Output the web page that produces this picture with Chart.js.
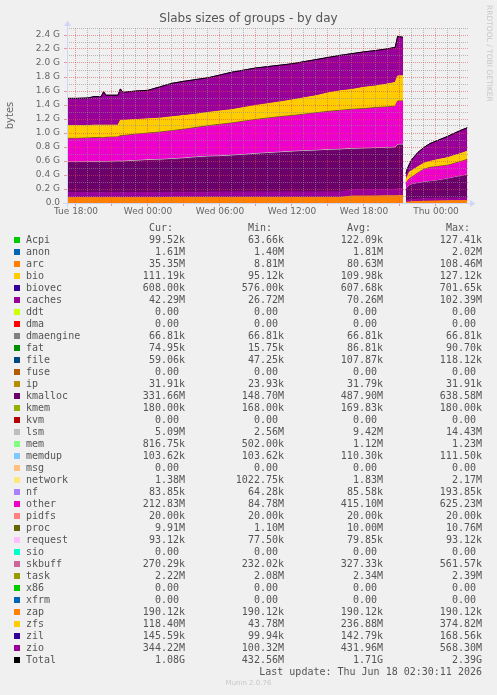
<!DOCTYPE html>
<html>
<head>
<meta charset="utf-8">
<script src="https://cdn.jsdelivr.net/npm/chart.js@4.4.1/dist/chart.umd.min.js"></script>
<style>
  html, body { margin: 0; padding: 0; background: #f0f0f0; }
  #wrap { position: relative; width: 497px; height: 695px; overflow: hidden; font-family: "DejaVu Sans", sans-serif; color: #555; }
  #chart { position: absolute; left: 0; top: 0; }
  .title { position: absolute; left: 0; width: 497px; top: 11px; text-align: center; font-size: 12px; line-height: 14px; color: #555; }
  .rrd { position: absolute; left: 494px; top: 5px; transform-origin: 0 0; transform: rotate(90deg); font-size: 7.5px; line-height: 9px; color: #c8c8c8; white-space: nowrap; }
  #legend { position: absolute; left: 0; top: 0; width: 497px; height: 695px; font-family: "DejaVu Sans Mono", monospace; font-size: 10px; line-height: 12px; color: #555; }
  #legend div { position: absolute; white-space: pre; }
  .sw { width: 6px; height: 6px; }
  .munin { position: absolute; left: 0; width: 497px; top: 679px; text-align: center; font-size: 7px; color: #c8c8c8; }
</style>
</head>
<body>
<div id="wrap">
  <canvas id="chart" width="497" height="222"></canvas>
  <div class="title">Slabs sizes of groups - by day</div>
  <div class="rrd">RRDTOOL / TOBI OETIKER</div>
  <div id="legend"></div>
  <div class="munin">Munin 2.0.76</div>
</div>
<script>
// time axis: hours since Tue 00:00 (null row at 45.4 = data gap)
const hours = [17.25, 18, 19, 19.5, 20.1, 20.3, 20.5, 21.5, 21.7, 21.9, 23, 24, 25, 26, 27, 28, 29, 30, 31, 32,
  33, 34, 35, 36, 37, 38, 39, 40, 41, 42, 43, 44, 44.6, 44.8, 45.25,
  45.4,
  45.5, 45.6, 45.8, 46, 46.5, 47, 47.5, 48, 49, 50, 50.6];

// stacked series, GiB
const arc = [.076, .076, .076, .076, .076, .076, .076, .076, .076, .076, .076, .076, .076, .080, .080, .080, .080, .080, .080, .080,
  .080, .080, .080, .080, .080, .080, .080, .080, .100, .100, .101, .102, .102, .105, .106,
  null,
  .009, .012, .015, .018, .022, .025, .027, .029, .031, .033, .0345];
const caches = [.073, .073, .073, .073, .073, .073, .073, .073, .073, .073, .073, .073, .073, .073, .073, .073, .073, .078, .078, .078,
  .078, .078, .078, .078, .078, .078, .078, .078, .092, .092, .092, .092, .092, .098, .099,
  null,
  .026, .028, .030, .032, .034, .036, .037, .038, .039, .040, .041];
const kmalloc = [.428, .428, .428, .431, .433, .433, .433, .438, .438, .438, .448, .458, .463, .469, .479, .494, .504, .504, .514, .524,
  .539, .549, .559, .569, .579, .584, .594, .599, .575, .580, .584, .588, .593, .624, .624,
  null,
  .148, .178, .208, .213, .222, .232, .239, .246, .273, .305, .324];
const lsm = [.010, .010, .010, .010, .010, .010, .010, .010, .010, .010, .010, .010, .010, .010, .010, .010, .010, .010, .010, .010,
  .010, .010, .010, .010, .010, .010, .010, .010, .010, .010, .010, .010, .010, .010, .010,
  null,
  .003, .003, .004, .004, .004, .005, .005, .005, .005, .005, .005];
const other = [.327, .327, .332, .334, .332, .332, .337, .337, .357, .357, .367, .372, .382, .392, .402, .412, .427, .442, .452, .467,
  .477, .487, .497, .502, .512, .527, .537, .547, .552, .557, .567, .572, .577, .610, .610,
  null,
  .083, .085, .090, .099, .144, .178, .193, .193, .183, .198, .208];
const proc = [.0098, .0098, .0098, .0098, .0098, .0098, .0098, .0098, .0098, .0098, .0098, .0098, .0098, .0098, .0098, .0098, .0098, .0098, .0098, .0098,
  .0098, .0098, .0098, .0098, .0098, .0098, .0098, .0098, .0098, .0098, .0098, .0098, .0098, .0098, .0098,
  null,
  .002, .003, .004, .005, .006, .007, .008, .008, .009, .0095, .0097];
const zfs = [.182, .182, .177, .178, .178, .178, .173, .168, .218, .218, .208, .203, .198, .198, .195, .190, .190, .190, .190, .195,
  .200, .205, .210, .223, .233, .243, .263, .278, .283, .303, .308, .328, .338, .358, .358,
  null,
  .043, .065, .094, .093, .087, .086, .085, .095, .109, .1135, .116];
const zio = [.389, .389, .394, .408, .408, .478, .428, .428, .448, .398, .408, .408, .448, .478, .490, .495, .495, .515, .535, .535,
  .535, .530, .525, .517, .517, .517, .507, .507, .512, .507, .507, .502, .502, .565, .550,
  null,
  .105, .110, .115, .160, .205, .225, .255, .270, .305, .330, .336];

// x axis labels
const tickHours = [18, 24, 30, 36, 42, 48];
const tickLabels = ['Tue 18:00', 'Wed 00:00', 'Wed 06:00', 'Wed 12:00', 'Wed 18:00', 'Thu 00:00'];

// legend table
const names = ['Acpi', 'anon', 'arc', 'bio', 'biovec', 'caches', 'ddt', 'dma', 'dmaengine', 'fat', 'file', 'fuse', 'ip', 'kmalloc', 'kmem', 'kvm', 'lsm', 'mem', 'memdup', 'msg', 'network', 'nf', 'other', 'pidfs', 'proc', 'request', 'sio', 'skbuff', 'task', 'x86', 'xfrm', 'zap', 'zfs', 'zil', 'zio', 'Total'];
const colors = ['#00CC00', '#0066B3', '#FF8000', '#FFCC00', '#330099', '#990099', '#CCFF00', '#FF0000', '#808080', '#008F00', '#00487D', '#B35A00', '#B38F00', '#6B006B', '#8FB300', '#B30000', '#BEBEBE', '#80FF80', '#80C9FF', '#FFC080', '#FFE680', '#AA80FF', '#EE00CC', '#FF8080', '#666600', '#FFBFFF', '#00FFCC', '#CC6699', '#999900', '#00CC00', '#0066B3', '#FF8000', '#FFCC00', '#330099', '#990099', '#000000'];
const curVals = ['99.52k', '1.61M', '35.35M', '111.19k', '608.00k', '42.29M', '0.00', '0.00', '66.81k', '74.95k', '59.06k', '0.00', '31.91k', '331.66M', '180.00k', '0.00', '5.09M', '816.75k', '103.62k', '0.00', '1.38M', '83.85k', '212.83M', '20.00k', '9.91M', '93.12k', '0.00', '270.29k', '2.22M', '0.00', '0.00', '190.12k', '118.40M', '145.59k', '344.22M', '1.08G'];
const minVals = ['63.66k', '1.40M', '8.81M', '95.12k', '576.00k', '26.72M', '0.00', '0.00', '66.81k', '15.75k', '47.25k', '0.00', '23.93k', '148.70M', '168.00k', '0.00', '2.56M', '502.00k', '103.62k', '0.00', '1022.75k', '64.28k', '84.78M', '20.00k', '1.10M', '77.50k', '0.00', '232.02k', '2.08M', '0.00', '0.00', '190.12k', '43.78M', '99.94k', '100.32M', '432.56M'];
const avgVals = ['122.09k', '1.81M', '80.63M', '109.98k', '607.68k', '70.26M', '0.00', '0.00', '66.81k', '86.81k', '107.87k', '0.00', '31.79k', '487.90M', '169.83k', '0.00', '9.42M', '1.12M', '110.30k', '0.00', '1.83M', '85.58k', '415.10M', '20.00k', '10.00M', '79.85k', '0.00', '327.33k', '2.34M', '0.00', '0.00', '190.12k', '236.88M', '142.79k', '431.96M', '1.71G'];
const maxVals = ['127.41k', '2.02M', '108.46M', '127.12k', '701.65k', '102.39M', '0.00', '0.00', '66.81k', '90.70k', '118.12k', '0.00', '31.91k', '638.58M', '180.00k', '0.00', '14.43M', '1.23M', '111.50k', '0.00', '2.17M', '193.85k', '625.23M', '20.00k', '10.76M', '93.12k', '0.00', '561.57k', '2.39M', '0.00', '0.00', '190.12k', '374.82M', '168.56k', '568.30M', '2.39G'];

const GRID = 'rgba(143,143,143,0.6)';
const MGRID = 'rgba(222,79,79,0.55)';
const AXIS = '#CFD6F8';

const layers = [
  ['arc', arc, '#FF8000'],
  ['caches', caches, '#990099'],
  ['kmalloc', kmalloc, '#6B006B'],
  ['lsm', lsm, '#BEBEBE'],
  ['other', other, '#EE00CC'],
  ['proc', proc, '#666600'],
  ['zfs', zfs, '#FFCC00'],
  ['zio', zio, '#990099']
];

const datasets = layers.map(([name, arr, col], i) => ({
  label: name,
  data: hours.map((h, j) => ({ x: h, y: arr[j] })),
  backgroundColor: col,
  borderColor: col,
  borderWidth: 1,
  fill: i === 0 ? 'origin' : '-1',
  stack: 'slabs'
}));

const total = hours.map((h, j) => ({
  x: h,
  y: arc[j] === null ? null : layers.reduce((s, l) => s + l[1][j], 0)
}));
datasets.push({
  label: 'Total', data: total, borderColor: '#000', borderWidth: 1,
  fill: false, stack: 'total', order: -1
});

const gridHours = [];
for (let h = 18; h <= 50; h++) gridHours.push(h);
const yGrid = [];
for (let k = 0; k <= 25; k++) yGrid.push(k / 10);

const axisPlugin = {
  id: 'rrdAxis',
  afterDraw(chart) {
    const { ctx, chartArea: a } = chart;
    const y0 = Math.round(chart.scales.y.getPixelForValue(0)) + 0.5;
    const x0 = a.left + 0.5;
    ctx.save();
    ctx.strokeStyle = AXIS;
    ctx.fillStyle = AXIS;
    ctx.lineWidth = 1;
    ctx.beginPath();
    ctx.moveTo(a.left - 4, y0); ctx.lineTo(a.right + 4, y0);
    ctx.moveTo(x0, y0 + 4); ctx.lineTo(x0, a.top - 4);
    ctx.stroke();
    ctx.beginPath();
    ctx.moveTo(a.right + 2, y0 - 3.5); ctx.lineTo(a.right + 2, y0 + 3.5); ctx.lineTo(a.right + 7.5, y0);
    ctx.closePath(); ctx.fill();
    ctx.beginPath();
    ctx.moveTo(x0 - 3.5, a.top - 2); ctx.lineTo(x0 + 3.5, a.top - 2); ctx.lineTo(x0, a.top - 7.5);
    ctx.closePath(); ctx.fill();
    ctx.restore();
  }
};

new Chart(document.getElementById('chart'), {
  type: 'line',
  data: { datasets },
  options: {
    responsive: false,
    animation: false,
    layout: { padding: { top: 28, right: 29, left: 0, bottom: 0 } },
    plugins: { legend: { display: false }, tooltip: { enabled: false }, title: { display: false } },
    elements: { point: { radius: 0 }, line: { tension: 0 } },
    scales: {
      x: {
        type: 'linear', min: 17.25, max: 50.667,
        afterBuildTicks: s => { s.ticks = gridHours.map(v => ({ value: v })); },
        afterFit: s => { s.height = 19; },
        ticks: {
          autoSkip: false, maxRotation: 0, padding: 0, color: '#666',
          font: { family: 'DejaVu Sans', size: 9 },
          callback: v => { const k = tickHours.indexOf(v); return k < 0 ? '' : tickLabels[k]; }
        },
        grid: {
          z: 1, tickLength: 3,
          color: c => (c.tick.value % 3 === 0 ? MGRID : GRID),
          tickColor: c => (c.tick.value % 3 === 0 ? MGRID : 'rgba(0,0,0,0)')
        },
        border: { display: false, dash: [1, 1] }
      },
      y: {
        stacked: true, min: 0, max: 2.5,
        afterBuildTicks: s => { s.ticks = yGrid.map(v => ({ value: v })); },
        afterFit: s => { s.width = 67; },
        ticks: {
          autoSkip: false, padding: 4, color: '#666',
          font: { family: 'DejaVu Sans', size: 9 },
          callback: v => {
            const k = Math.round(v * 10);
            if (k % 2 !== 0 || k > 24) return '';
            return k === 0 ? '0.0' : (k / 10).toFixed(1) + ' G';
          }
        },
        title: { display: true, text: 'bytes', color: '#666', font: { family: 'DejaVu Sans', size: 10 }, padding: { top: 4, bottom: 0 } },
        grid: {
          z: 1, tickLength: 3,
          color: c => {
            const k = Math.round(c.tick.value * 10);
            if (k === 0) return 'rgba(0,0,0,0)';
            return k % 2 === 0 ? MGRID : GRID;
          },
          tickColor: c => (Math.round(c.tick.value * 10) % 2 === 0 ? MGRID : 'rgba(0,0,0,0)')
        },
        border: { display: false, dash: [1, 1] }
      }
    }
  },
  plugins: [axisPlugin]
});

// legend table under the graph
const leg = document.getElementById('legend');
function put(text, left, top, right) {
  const d = document.createElement('div');
  d.textContent = text;
  d.style.top = top + 'px';
  if (right !== undefined) {
    d.style.left = (right - 300) + 'px';
    d.style.width = '300px';
    d.style.textAlign = 'right';
  } else {
    d.style.left = left + 'px';
  }
  leg.appendChild(d);
  return d;
}
const valRight = [185, 284, 383, 482];
const headRight = [173, 272, 371, 470];
['Cur:', 'Min:', 'Avg:', 'Max:'].forEach((t, c) => put(t, 0, 222, headRight[c]));
const pad = s => (/[0-9]$/.test(s) ? s + ' ' : s);
names.forEach((n, i) => {
  const top = 234 + i * 12;
  const sw = document.createElement('div');
  sw.className = 'sw';
  sw.style.left = '14px';
  sw.style.top = (top + 3) + 'px';
  sw.style.background = colors[i];
  leg.appendChild(sw);
  put(n, 26, top);
  [curVals, minVals, avgVals, maxVals].forEach((col, c) => put(pad(col[i]), 0, top, valRight[c]));
});
put('Last update: Thu Jun 18 02:30:11 2026', 0, 666, 482);
</script>
</body>
</html>
